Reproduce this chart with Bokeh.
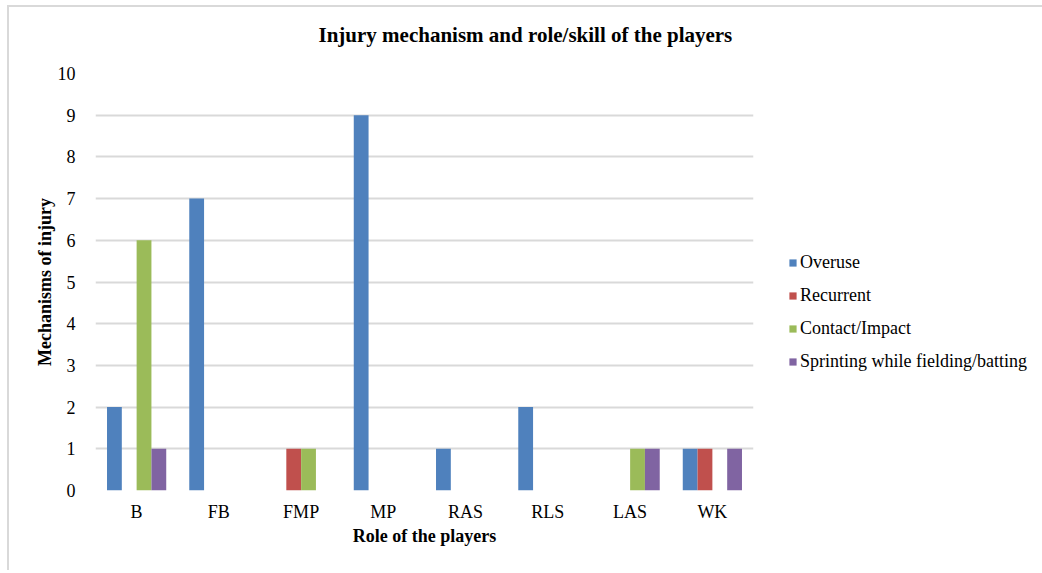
from bokeh.plotting import figure
from bokeh.models import ColumnDataSource, FactorRange, Legend, LegendItem, Title
from bokeh.transform import dodge
from bokeh.embed import file_html
from bokeh.resources import INLINE

# Player roles and counts of each injury mechanism
roles = ["B", "FB", "FMP", "MP", "RAS", "RLS", "LAS", "WK"]
overuse = [2, 7, 0, 9, 1, 2, 0, 1]
recurrent = [0, 0, 1, 0, 0, 0, 0, 1]
contact_impact = [6, 0, 1, 0, 0, 0, 1, 0]
sprinting = [1, 0, 0, 0, 0, 0, 1, 1]

series_names = ["Overuse", "Recurrent", "Contact/Impact", "Sprinting while fielding/batting"]
series_keys = ["overuse", "recurrent", "contact", "sprinting"]
colors = ["#4f81bd", "#c0504d", "#9bbb59", "#8064a2"]
y_ticks = list(range(0, 11))

FONT = "Liberation Serif"

source = ColumnDataSource(data=dict(
    roles=roles,
    overuse=overuse,
    recurrent=recurrent,
    contact=contact_impact,
    sprinting=sprinting,
))

p = figure(
    x_range=FactorRange(*roles),
    y_range=(0, 10),
    frame_width=658,
    frame_height=417,
    output_backend="svg",
    toolbar_location=None,
    min_border_left=86,
    min_border_right=0,
    min_border_top=66,
    min_border_bottom=80,
)
p.margin = (5, 0, 0, 7)
p.styles = {"border-top": "2px solid #d9d9d9", "border-left": "2px solid #d9d9d9"}

bar_w = 0.18
offsets = [-0.27, -0.09, 0.09, 0.27]
items = []
for key, name, col, off in zip(series_keys, series_names, colors, offsets):
    r = p.vbar(
        x=dodge("roles", off, range=p.x_range),
        top=key,
        width=bar_w,
        source=source,
        fill_color=col,
        line_color=None,
    )
    items.append(LegendItem(label=name, renderers=[r]))

# Chart title, with a blank title below it to keep a gap above the plot area
p.title = Title(
    text="Injury mechanism and role/skill of the players",
    align="left",
    offset=223,
    standoff=0,
    text_font=FONT,
    text_font_size="21px",
    text_font_style="bold",
    text_color="#000000",
)
p.add_layout(Title(text=" ", text_font_size="1px", standoff=24), "above")

# Axes
p.xaxis.axis_label = "Role of the players"
p.yaxis.axis_label = "Mechanisms of injury"
for ax in (p.xaxis[0], p.yaxis[0]):
    ax.axis_label_text_font = FONT
    ax.axis_label_text_font_size = "18px"
    ax.axis_label_text_font_style = "bold"
    ax.axis_label_text_color = "#000000"
    ax.major_label_text_font = FONT
    ax.major_label_text_font_size = "18px"
    ax.major_label_text_color = "#000000"
    ax.axis_line_color = None
    ax.major_tick_line_color = None
    ax.minor_tick_line_color = None

p.yaxis.ticker = y_ticks
p.yaxis.major_label_standoff = 14
p.xaxis.major_label_standoff = 5
p.xaxis.axis_label_standoff = 1
p.yaxis.axis_label_standoff = 0

p.xgrid.grid_line_color = None
p.ygrid.grid_line_color = "#d9d9d9"
p.ygrid.grid_line_width = 2
p.outline_line_color = None
p.x_range.range_padding = 0
p.x_range.group_padding = 0

legend = Legend(
    items=items,
    location=(35, 118),
    orientation="vertical",
    glyph_width=9,
    glyph_height=9,
    label_standoff=3,
    label_height=18,
    spacing=12,
    padding=0,
    margin=0,
    border_line_color=None,
    background_fill_alpha=0,
    label_text_font=FONT,
    label_text_font_size="18px",
    label_text_color="#000000",
)
p.add_layout(legend, "right")

open("out.html", "w").write(file_html(p, INLINE))
